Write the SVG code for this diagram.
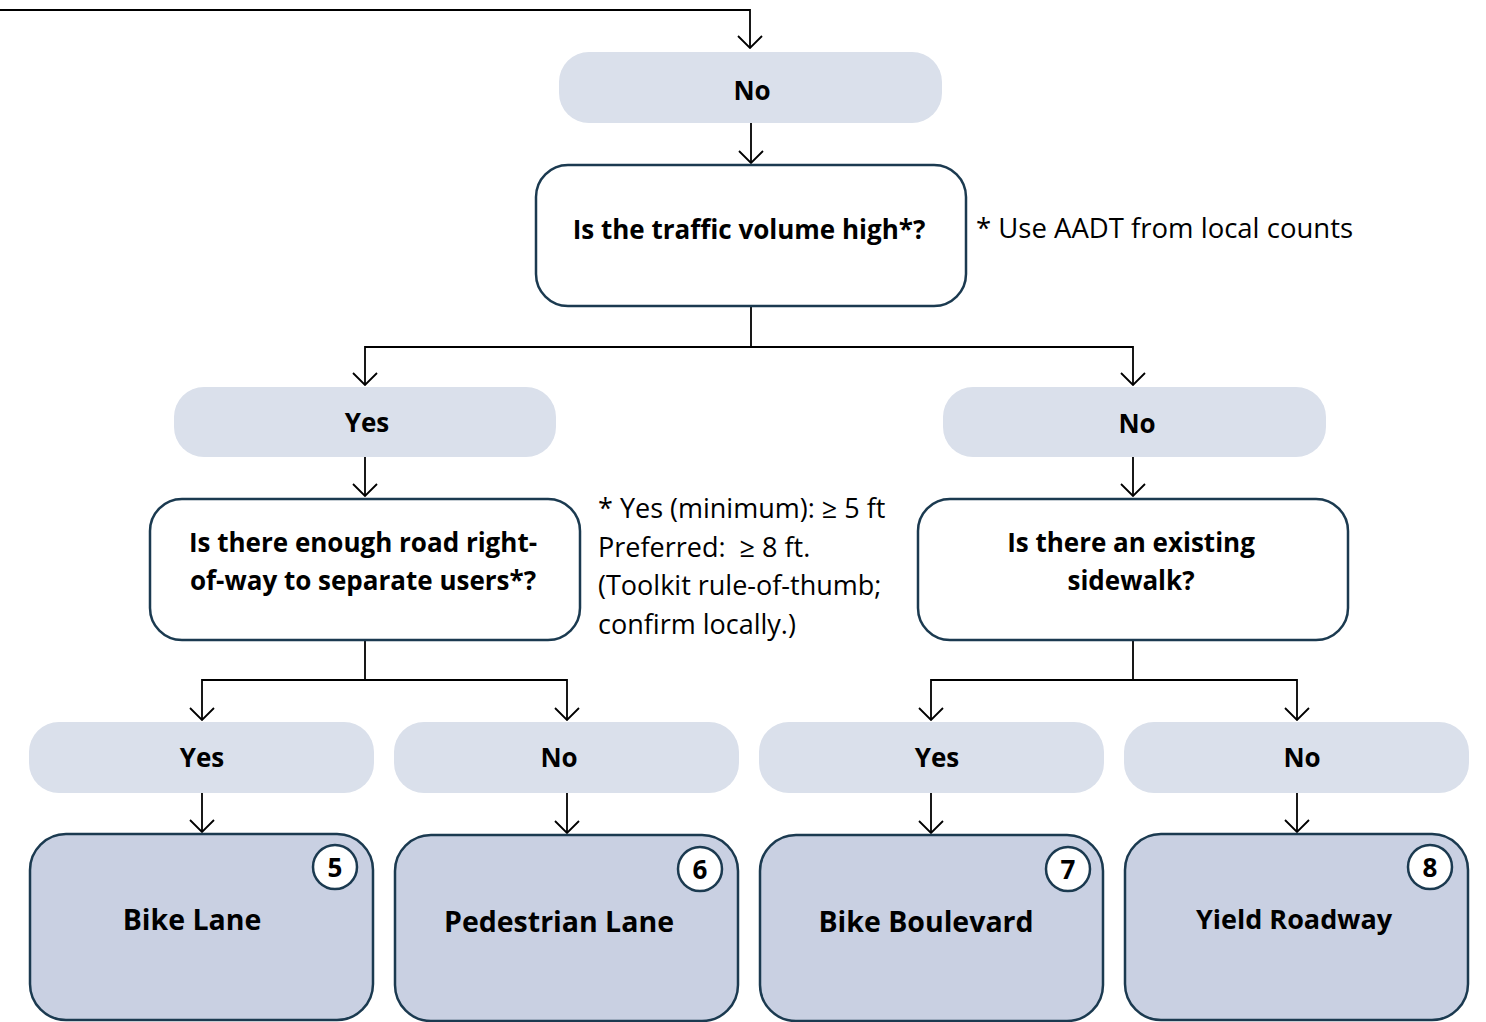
<svg xmlns="http://www.w3.org/2000/svg" width="1486" height="1022" viewBox="0 0 1486 1022">
<style>
.pill{fill:#dae0eb;stroke:none}
.q{fill:#ffffff;stroke:#1b3a50;stroke-width:2.5}
.res{fill:#c9d0e2;stroke:#1b3a50;stroke-width:2.5}
.num{fill:#ffffff;stroke:#1b3a50;stroke-width:2.5}
.b{font-family:"Open Sans","Noto Sans",sans-serif;font-weight:bold;fill:#000;text-anchor:middle}
.n{font-family:"Open Sans","Noto Sans",sans-serif;fill:#000}
.c{fill:none;stroke:#000;stroke-width:1.8}
</style>
<defs>
<marker id="ah" markerUnits="userSpaceOnUse" viewBox="0 0 14 26" refX="13" refY="13" markerWidth="14" markerHeight="26" orient="auto">
<path d="M1,1 L13,13 L1,25" fill="none" stroke="#000" stroke-width="1.8"/>
</marker>
</defs>
<rect width="1486" height="1022" fill="#ffffff"/>
<g id="connectors">
<path class="c" d="M0,10 H750 V48" marker-end="url(#ah)"/>
<path class="c" d="M751,123 V163" marker-end="url(#ah)"/>
<path class="c" d="M751,306 V347 H365 V385" marker-end="url(#ah)"/>
<path class="c" d="M751,347 H1133 V385" marker-end="url(#ah)"/>
<path class="c" d="M365,457 V496" marker-end="url(#ah)"/>
<path class="c" d="M1133,457 V496" marker-end="url(#ah)"/>
<path class="c" d="M365,640 V680 H202 V720" marker-end="url(#ah)"/>
<path class="c" d="M365,680 H567 V720" marker-end="url(#ah)"/>
<path class="c" d="M1133,640 V680 H931 V720" marker-end="url(#ah)"/>
<path class="c" d="M1133,680 H1297 V720" marker-end="url(#ah)"/>
<path class="c" d="M202,793 V832" marker-end="url(#ah)"/>
<path class="c" d="M567,793 V833" marker-end="url(#ah)"/>
<path class="c" d="M931,793 V833" marker-end="url(#ah)"/>
<path class="c" d="M1297,793 V832" marker-end="url(#ah)"/>
</g>
<g id="no-top">
<rect class="pill" x="559" y="52" width="383" height="71" rx="30"/>
<text class="b" x="752" y="100" font-size="26">No</text>
</g>
<g id="q-traffic">
<rect class="q" x="536" y="165" width="430" height="141" rx="32"/>
<text class="b" x="749" y="239" font-size="26">Is the traffic volume high*?</text>
</g>
<g id="note-aadt">
<text class="n" x="976" y="238" font-size="27.5">* Use AADT from local counts</text>
</g>
<g id="yes-1">
<rect class="pill" x="174" y="387" width="382" height="70" rx="30"/>
<text class="b" x="367" y="432" font-size="26">Yes</text>
</g>
<g id="no-1">
<rect class="pill" x="943" y="387" width="383" height="70" rx="30"/>
<text class="b" x="1137" y="433" font-size="26">No</text>
</g>
<g id="q-row">
<rect class="q" x="150" y="499" width="430" height="141" rx="32"/>
<text class="b" x="363" y="552" font-size="26">Is there enough road right-</text>
<text class="b" x="363" y="590" font-size="26">of-way to separate users*?</text>
</g>
<g id="note-row">
<text class="n" font-size="27"><tspan x="598" y="518">* Yes (minimum): ≥ 5 ft</tspan><tspan x="598" y="557">Preferred: &#160;≥ 8 ft.</tspan><tspan x="598" y="595">(Toolkit rule-of-thumb;</tspan><tspan x="598" y="634">confirm locally.)</tspan></text>
</g>
<g id="q-sidewalk">
<rect class="q" x="918" y="499" width="430" height="141" rx="32"/>
<text class="b" x="1131" y="552" font-size="26">Is there an existing</text>
<text class="b" x="1131" y="590" font-size="26">sidewalk?</text>
</g>
<g id="yes-2">
<rect class="pill" x="29" y="722" width="345" height="71" rx="30"/>
<text class="b" x="202" y="767" font-size="26">Yes</text>
</g>
<g id="no-2">
<rect class="pill" x="394" y="722" width="345" height="71" rx="30"/>
<text class="b" x="559" y="767" font-size="26">No</text>
</g>
<g id="yes-3">
<rect class="pill" x="759" y="722" width="345" height="71" rx="30"/>
<text class="b" x="937" y="767" font-size="26">Yes</text>
</g>
<g id="no-3">
<rect class="pill" x="1124" y="722" width="345" height="71" rx="30"/>
<text class="b" x="1302" y="767" font-size="26">No</text>
</g>
<g id="bike-lane">
<rect class="res" x="30" y="834" width="343" height="186" rx="36"/>
<circle class="num" cx="335" cy="867" r="22"/>
<text class="b" x="335" y="877" font-size="26">5</text>
<text class="b" x="192" y="930" font-size="28.5">Bike Lane</text>
</g>
<g id="pedestrian-lane">
<rect class="res" x="395" y="835" width="343" height="186" rx="36"/>
<circle class="num" cx="700" cy="869" r="22"/>
<text class="b" x="700" y="879" font-size="26">6</text>
<text class="b" x="559" y="932" font-size="28.5">Pedestrian Lane</text>
</g>
<g id="bike-boulevard">
<rect class="res" x="760" y="835" width="343" height="186" rx="36"/>
<circle class="num" cx="1068" cy="869" r="22"/>
<text class="b" x="1068" y="879" font-size="26">7</text>
<text class="b" x="926" y="932" font-size="28.5">Bike Boulevard</text>
</g>
<g id="yield-roadway">
<rect class="res" x="1125" y="834" width="343" height="186" rx="36"/>
<circle class="num" cx="1430" cy="867" r="22"/>
<text class="b" x="1430" y="877" font-size="26">8</text>
<text class="b" x="1294" y="929" font-size="27">Yield Roadway</text>
</g>
</svg>
